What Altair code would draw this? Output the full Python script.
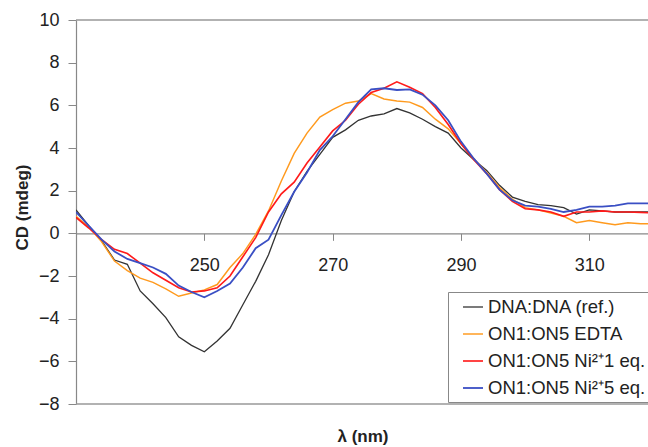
import altair as alt
import pandas as pd

# wavelength grid (nm)
wavelength = list(range(230, 321, 2))

series_names = ["DNA:DNA (ref.)", "ON1:ON5 EDTA", "ON1:ON5 Ni²⁺1 eq.", "ON1:ON5 Ni²⁺5 eq."]

dna_ref = [1.1, 0.35, -0.35, -1.25, -1.45, -2.7, -3.3, -3.95, -4.85, -5.25,
           -5.55, -5.05, -4.45, -3.35, -2.25, -1.0, 0.6, 1.95, 2.9, 3.7,
           4.5, 4.85, 5.3, 5.5, 5.6, 5.85, 5.65, 5.35, 5.0, 4.7,
           4.0, 3.45, 2.95, 2.25, 1.7, 1.5, 1.35, 1.3, 1.2, 0.9,
           1.1, 1.05, 1.0, 1.0, 1.0, 1.0]

edta = [0.8, 0.3, -0.4, -1.3, -1.75, -2.1, -2.3, -2.6, -2.95, -2.8,
        -2.65, -2.4, -1.6, -0.95, -0.05, 1.05, 2.45, 3.75, 4.7, 5.45,
        5.8, 6.1, 6.2, 6.55, 6.3, 6.2, 6.15, 5.9, 5.35, 4.9,
        4.2, 3.5, 2.85, 2.15, 1.6, 1.2, 1.1, 0.95, 0.8, 0.5,
        0.6, 0.5, 0.4, 0.5, 0.45, 0.45]

ni_1eq = [0.75, 0.25, -0.3, -0.75, -0.95, -1.4, -1.85, -2.2, -2.55, -2.75,
          -2.7, -2.55, -2.0, -1.1, -0.2, 1.0, 1.85, 2.4, 3.3, 4.05,
          4.8, 5.3, 6.05, 6.6, 6.8, 7.1, 6.85, 6.55, 5.9, 5.1,
          4.2, 3.45, 2.8, 2.05, 1.5, 1.15, 1.1, 1.0, 0.8, 1.0,
          1.0, 1.05, 1.0, 1.0, 0.98, 0.95]

ni_5eq = [1.0, 0.35, -0.3, -0.85, -1.2, -1.4, -1.6, -1.9, -2.45, -2.75,
          -3.0, -2.7, -2.35, -1.6, -0.7, -0.3, 0.85, 1.95, 2.85, 3.9,
          4.55, 5.35, 6.15, 6.75, 6.8, 6.72, 6.75, 6.5, 6.0, 5.3,
          4.3, 3.5, 2.8, 2.05, 1.55, 1.3, 1.25, 1.15, 1.0, 1.1,
          1.25, 1.25, 1.3, 1.4, 1.4, 1.4]

y_ticks = list(range(-8, 11, 2))
x_ticks = [250, 270, 290, 310]
y_limits = [-8, 10]

series_colors = ["#333333", "#FF9A1E", "#FF1A1A", "#3A4FC4"]
series_widths = [1.3, 1.8, 1.8, 1.8]

rows = []
for name, vals in zip(series_names, [dna_ref, edta, ni_1eq, ni_5eq]):
    for w, v in zip(wavelength, vals):
        rows.append({"wavelength": w, "cd": v, "series": name})
df = pd.DataFrame(rows)

W, H = 572, 384
FONT = "Liberation Sans"

x_scale = alt.Scale(domain=[230, 230 + W / 6.417], nice=False, zero=False)
y_scale = alt.Scale(domain=y_limits, nice=False, zero=False)

lines = alt.Chart(df).mark_line(clip=True).encode(
    x=alt.X("wavelength:Q", scale=x_scale,
            axis=alt.Axis(values=x_ticks, title=None, offset=-(H * 8 / 18),
                          grid=False, tickSize=7, labelPadding=16,
                          labelFontSize=18, labelFont=FONT, labelColor="#222",
                          domainColor="#888", tickColor="#888", domainWidth=1.2)),
    y=alt.Y("cd:Q", scale=y_scale,
            axis=alt.Axis(values=y_ticks, title="CD (mdeg)", grid=False,
                          tickSize=8, labelPadding=9, labelFontSize=18,
                          labelFont=FONT, labelColor="#222",
                          domainColor="#888", tickColor="#888", domainWidth=1.2,
                          titleFont=FONT, titleFontSize=17, titleFontWeight="bold",
                          titleColor="#222", titleX=-54, titleY=187,
                          titleBaseline="middle", titleAngle=-90)),
    color=alt.Color("series:N", sort=series_names,
                    scale=alt.Scale(domain=series_names, range=series_colors),
                    legend=alt.Legend(title=None, orient="none", legendX=372, legendY=272,
                                      labelFont=FONT, labelFontSize=18.5, labelColor="#222",
                                      symbolType="stroke", symbolSize=400,
                                      symbolStrokeWidth=1.6, symbolOffset=10,
                                      labelOffset=4, rowPadding=6, padding=4,
                                      strokeColor="#888", fillColor="white",
                                      labelLimit=400)),
    strokeWidth=alt.StrokeWidth("series:N", sort=series_names,
                                scale=alt.Scale(domain=series_names, range=series_widths),
                                legend=None),
)

borders = alt.Chart(pd.DataFrame({"edge": y_limits})).mark_rule(
    color="#999", strokeWidth=1.6
).encode(
    x=alt.value(0), x2=alt.value(W),
    y=alt.Y("edge:Q", scale=y_scale),
)

x_title = alt.Chart(pd.DataFrame({"t": ["λ (nm)"]})).mark_text(
    font=FONT, fontSize=17, fontWeight="bold", color="#222", baseline="middle", align="center"
).encode(text="t:N", x=alt.value(287), y=alt.value(417))

chart = alt.layer(lines, borders, x_title).properties(
    width=W, height=H,
    autosize=alt.AutoSizeParams(type="none"),
    padding={"left": 76, "top": 20, "right": 0, "bottom": 43},
).configure_view(stroke=None)

chart.save("out.html", embed_options={"renderer": "svg", "actions": False})
